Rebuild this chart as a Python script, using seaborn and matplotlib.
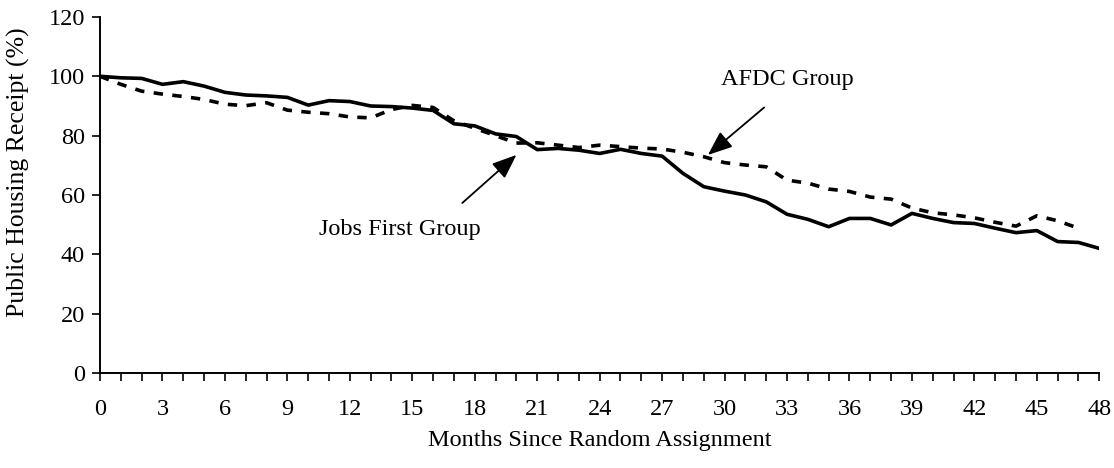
import numpy as np
import pandas as pd
import matplotlib
matplotlib.use("Agg")
import matplotlib.pyplot as plt
import seaborn as sns
from matplotlib.ticker import MultipleLocator

months_jobs = list(range(0, 49))
jobs_first = [100, 99.5, 99.3, 97.3, 98.2, 96.7, 94.6, 93.7, 93.4, 92.9,
              90.3, 91.8, 91.5, 90.0, 89.8, 89.3, 88.5, 84.0, 83.3, 80.6,
              79.7, 75.3, 75.7, 75.1, 74.0, 75.4, 74.0, 73.1, 67.3, 62.8,
              61.3, 60.0, 57.7, 53.5, 51.8, 49.3, 52.1, 52.1, 49.9, 53.8,
              52.1, 50.7, 50.4, 48.8, 47.3, 48.0, 44.3, 44.0, 42.0]

months_afdc = list(range(0, 48))
afdc = [100, 97.3, 95.0, 94.0, 93.2, 92.2, 90.6, 90.1, 91.1, 88.6,
        87.9, 87.4, 86.3, 86.0, 88.8, 90.2, 89.5, 85.0, 82.5, 80.0,
        77.5, 77.6, 76.8, 76.0, 76.8, 76.3, 75.8, 75.5, 74.4, 72.9,
        70.9, 70.1, 69.5, 65.0, 64.0, 62.0, 61.2, 59.3, 58.6, 55.6,
        54.0, 53.3, 52.3, 50.8, 49.5, 53.0, 51.3, 48.8]

x_ticks = list(range(0, 49, 3))
y_ticks = [0, 20, 40, 60, 80, 100, 120]

df = pd.concat([
    pd.DataFrame({"Month": months_jobs, "Pct": jobs_first, "Group": "Jobs First Group"}),
    pd.DataFrame({"Month": months_afdc, "Pct": afdc, "Group": "AFDC Group"}),
], ignore_index=True)

sns.set_style("white")
plt.rcParams["font.family"] = ["Liberation Serif", "DejaVu Serif"]
plt.rcParams["text.color"] = "black"
plt.rcParams["axes.labelcolor"] = "black"

fig = plt.figure(figsize=(11.14, 4.68), dpi=100)
ax = fig.add_axes([0.0898, 0.203, 0.897, 0.7607])

sns.lineplot(data=df, x="Month", y="Pct", hue="Group", style="Group",
             palette={"Jobs First Group": "black", "AFDC Group": "black"},
             dashes={"Jobs First Group": "", "AFDC Group": (2.6, 2.6)},
             linewidth=2.6, legend=False, ax=ax, estimator=None, sort=True)

ax.set_xlim(0, 48)
ax.set_ylim(0, 120)
ax.set_xticks(x_ticks)
ax.xaxis.set_minor_locator(MultipleLocator(1))
ax.set_yticks(y_ticks)

for s in ["top", "right"]:
    ax.spines[s].set_visible(False)
for s in ["left", "bottom"]:
    ax.spines[s].set_color("black")
    ax.spines[s].set_linewidth(1.4)

fs = 17.5
ax.tick_params(axis="both", which="both", direction="out", color="black",
               labelsize=fs, labelcolor="black", bottom=True, left=True)
ax.tick_params(axis="x", which="major", length=6, width=1.2, pad=13)
ax.tick_params(axis="x", which="minor", length=6, width=1.2)
ax.tick_params(axis="y", which="major", length=6, width=1.2, pad=5)

ax.set_xlabel("Months Since Random Assignment", fontsize=fs, labelpad=7)
ax.set_ylabel("Public Housing Receipt (%)", fontsize=18.5)
ax.yaxis.set_label_coords(-0.07, 0.565)
ax.grid(False)

arrowprops = dict(arrowstyle="-|>,head_length=1.5,head_width=0.6", color="black",
                  lw=1.3, shrinkA=0, shrinkB=0)
ax.text(33.0, 98.8, "AFDC Group", fontsize=fs, ha="center", va="center")
ax.annotate("", xy=(29.2, 73.5), xytext=(31.9, 89.5), arrowprops=arrowprops)
ax.text(14.4, 48.2, "Jobs First Group", fontsize=fs, ha="center", va="center")
ax.annotate("", xy=(20.0, 73.5), xytext=(17.4, 57.3), arrowprops=arrowprops)

fig.savefig("out.png", dpi=100)
